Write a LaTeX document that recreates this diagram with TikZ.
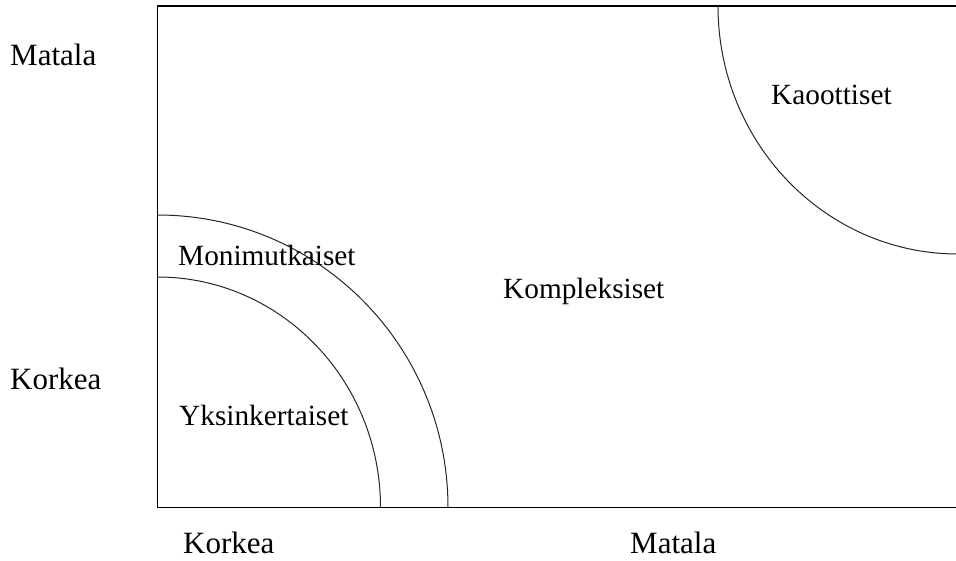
\documentclass[tikz,border=0pt]{standalone}
\usepackage{fontspec}
\setmainfont{Liberation Serif}
\begin{document}
\begin{tikzpicture}[x=1pt,y=-1pt,
  sidelabel/.style={anchor=base west, inner sep=0pt, font=\fontsize{31}{36}\selectfont},
  zonelabel/.style={anchor=base west, inner sep=0pt, font=\fontsize{29.3}{34}\selectfont},
  frame/.style={line width=1.6pt, line cap=rect},
  border/.style={line width=1pt, black!85}]
\useasboundingbox (0,0) rectangle (956,560);
% frame (open on the right)
\draw[frame] (956,6) -- (157.5,6) -- (157.5,507.5) -- (956,507.5);
% quarter arcs at lower-left
\draw[border] (157.5,277) arc[start angle=90, end angle=0, x radius=223, y radius=-230.5];
\draw[border] (157.5,215) arc[start angle=90, end angle=0, x radius=290.5, y radius=-292.5];
% arc at upper-right
\draw[border] (718,6) arc[start angle=180, end angle=270, x radius=240, y radius=-248];
% labels
\node[sidelabel] (matL) at (10,65) {Matala};
\node[sidelabel] (korL) at (10,389) {Korkea};
\node[sidelabel, text depth=0pt] (korB) at (183,553) {Korkea};
\node[sidelabel, text depth=0pt] (matB) at (630,553) {Matala};
\node[zonelabel] (kao) at (771,104) {Kaoottiset};
\node[zonelabel] (mon) at (178,265) {Monimutkaiset};
\node[zonelabel] (yks) at (179,425) {Yksinkertaiset};
\node[zonelabel] (kom) at (503,298) {Kompleksiset};
\end{tikzpicture}
\end{document}
